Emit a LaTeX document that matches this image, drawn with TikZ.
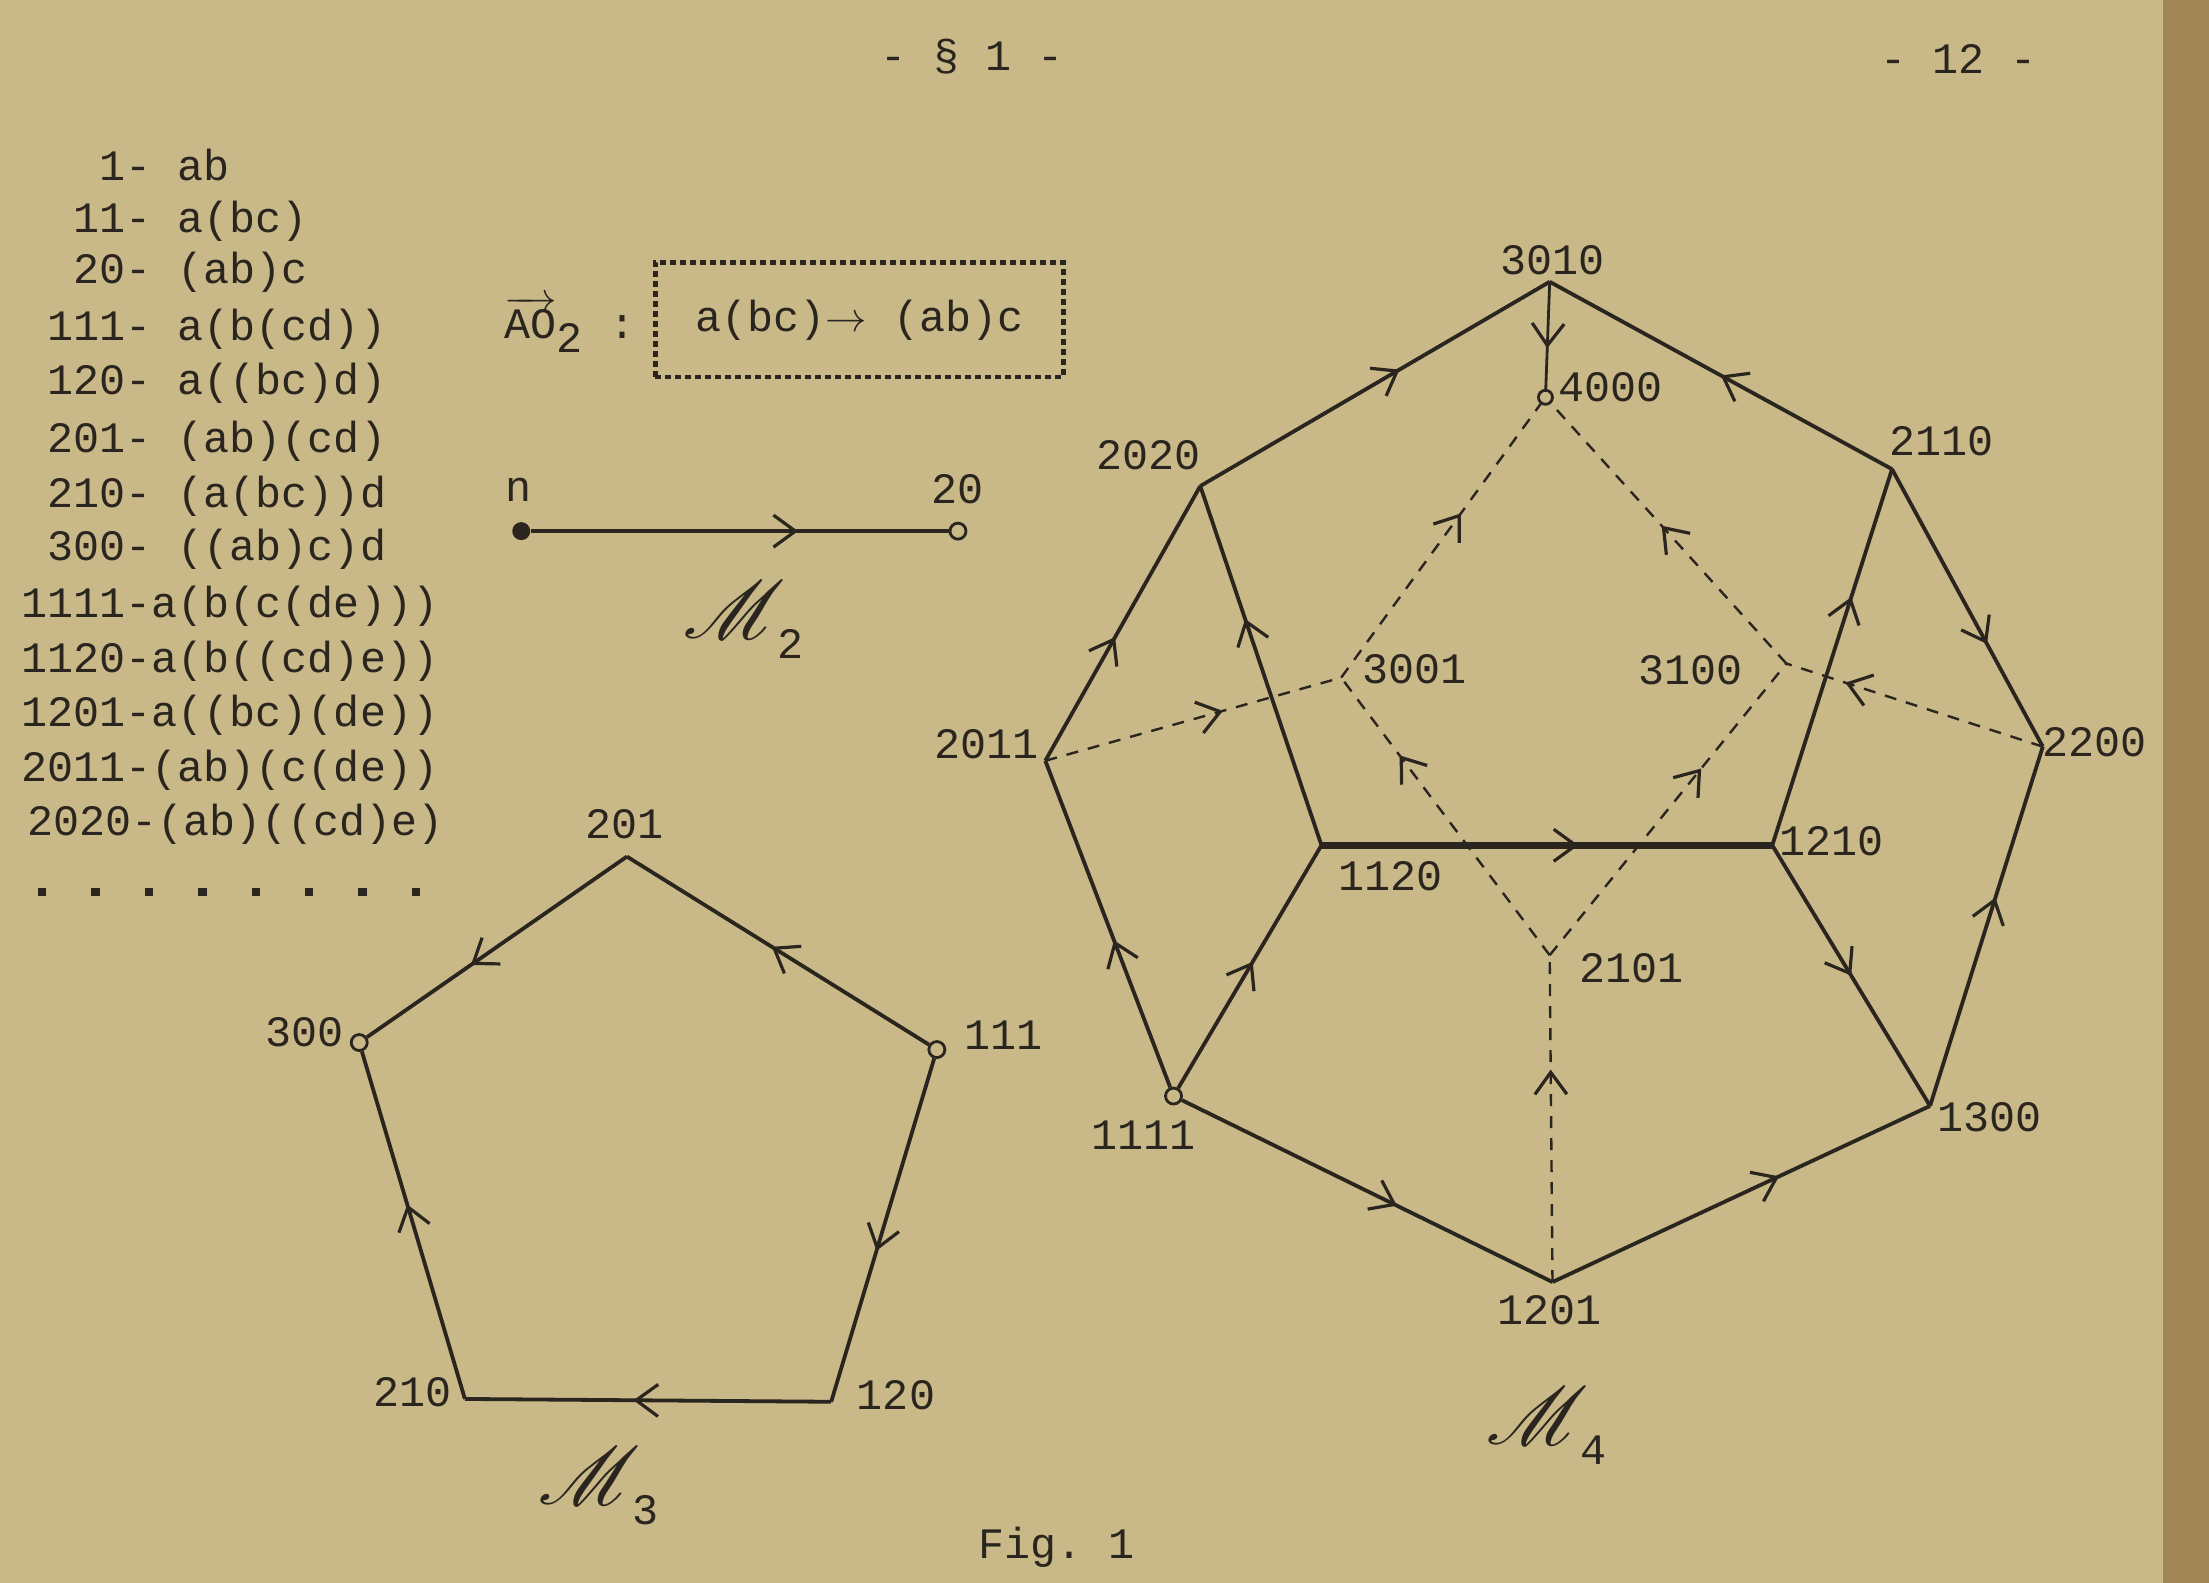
\documentclass[tikz,border=0pt]{standalone}
\usepackage{fontspec}
\setmonofont{Liberation Mono}
\usepackage{mathrsfs}
\usetikzlibrary{arrows.meta,decorations.markings}
\definecolor{paper}{RGB}{202,185,136}
\definecolor{edgeband}{RGB}{163,134,86}
\definecolor{ink}{RGB}{42,37,30}
\newcommand\tw{\ttfamily\fontsize{21.7}{26}\selectfont}
\newcommand\scrM[1]{\scalebox{1.65}{{\fontsize{24}{28}\selectfont$\mathscr{M}$}}\kern-4pt\raisebox{-10pt}{\tw #1}}
\begin{document}
\begin{tikzpicture}[x=0.7045pt,y=-0.7045pt,
  lbl/.style={font=\tw, text=ink, inner sep=0pt},
  edgeln/.style={draw=ink, line width=1.9pt},
  heavy/.style={draw=ink, line width=3.4pt},
  dsh/.style={draw=ink, line width=1.2pt, dash pattern=on 6pt off 5pt},
  marr/.style={postaction={decorate,decoration={markings,mark=at position #1 with {\arrow[ink,line width=1.6pt]{Straight Barb[length=11pt,width=16pt]}}}}},
  ring/.style={circle, draw=ink, fill=paper, line width=1.4pt, inner sep=0pt, minimum size=8pt},
  blob/.style={circle, fill=ink, inner sep=0pt, minimum size=9pt}]
% background
\fill[paper] (0,0) rectangle (1568,1123.5);
\fill[edgeband] (1535,0) rectangle (1568,1123.5);
\useasboundingbox (0,0) rectangle (1568,1123.5);

% header
\node[lbl] (hdr) at (690,40) {- § 1 -};
\node[lbl] (pg) at (1390,42) {- 12 -};
\node[lbl] (fig) at (750,1098) {Fig. 1};

% list
\node[lbl, anchor=base west] (l1) at (15,128) {\phantom{000}1- ab};
\node[lbl, anchor=base west] (l2) at (15,165) {\phantom{00}11- a(bc)};
\node[lbl, anchor=base west] (l3) at (15,201) {\phantom{00}20- (ab)c};
\node[lbl, anchor=base west] (l4) at (15,242) {\phantom{0}111- a(b(cd))};
\node[lbl, anchor=base west] (l5) at (15,280) {\phantom{0}120- a((bc)d)};
\node[lbl, anchor=base west] (l6) at (15,321) {\phantom{0}201- (ab)(cd)};
\node[lbl, anchor=base west] (l7) at (15,360) {\phantom{0}210- (a(bc))d};
\node[lbl, anchor=base west] (l8) at (15,398) {\phantom{0}300- ((ab)c)d};
\node[lbl, anchor=base west] (l9) at (15,438) {1111-a(b(c(de)))};
\node[lbl, anchor=base west] (l10) at (15,477) {1120-a(b((cd)e))};
\node[lbl, anchor=base west] (l11) at (15,516) {1201-a((bc)(de))};
\node[lbl, anchor=base west] (l12) at (15,555) {2011-(ab)(c(de))};
\node[lbl, anchor=base west] (l13) at (19,593) {2020-(ab)((cd)e)};
\foreach \i in {0,...,7} {\fill[ink] ({30+37.9*\i-3},630) rectangle ({30+37.9*\i+3},636);}

% AO2 box
\node[lbl, anchor=base west] (ao) at (358,240) {$\overrightarrow{\hbox{\tw AO}}_{\hbox{\tw 2}}$ :};
\node[lbl, draw=ink, line width=2.2pt, dash pattern=on 3pt off 2pt, minimum width=204pt, minimum height=57.5pt] (box) at (610,227) {a(bc)$\rightarrow$ (ab)c};

% M2
\node[blob] (n) at (370,377) {};
\node[ring] (m20) at (680,377) {};
\node[lbl] (nl) at (368,348) {n};
\node[lbl] (m20l) at (680,347) {20};
\draw[edgeln, line width=2.2pt, marr=0.64] (n) -- (m20);
\node[text=ink, inner sep=0pt] (M2) at (528,440) {\scrM{2}};

% M3
\coordinate (a201) at (445,608);
\node[ring] (a300) at (255,740) {};
\node[ring] (a111) at (665,745) {};
\coordinate (a210) at (330,993);
\coordinate (a120) at (590,995);
\node[lbl] (a201l) at (443,585) {201};
\node[lbl] (a300l) at (216,733) {300};
\node[lbl] (a111l) at (712,735) {111};
\node[lbl] (a210l) at (293,988) {210};
\node[lbl] (a120l) at (636,990) {120};
\draw[edgeln, marr=0.52] (a111) -- (a201);
\draw[edgeln, marr=0.6] (a201) -- (a300);
\draw[edgeln, marr=0.56] (a111) -- (a120);
\draw[edgeln, marr=0.54] (a120) -- (a210);
\draw[edgeln, marr=0.56] (a210) -- (a300);
\node[text=ink, inner sep=0pt] (M3) at (425,1055) {\scrM{3}};

% M4 vertices
\coordinate (b3010) at (1100,200);
\node[ring, minimum size=7pt] (b4000) at (1097,282) {};
\coordinate (b2020) at (852,345);
\coordinate (b2110) at (1343,333);
\coordinate (b2011) at (742,540);
\coordinate (b2200) at (1450,530);
\coordinate (b1120) at (938,600);
\coordinate (b1210) at (1258,600);
\coordinate (b3001) at (952,481);
\coordinate (b3100) at (1268,471);
\coordinate (b2101) at (1100,678);
\node[ring] (b1111) at (833,778) {};
\coordinate (b1300) at (1370,785);
\coordinate (b1201) at (1102,910);

% M4 labels
\node[lbl] (b3010l) at (1102,185) {3010};
\node[lbl] (b4000l) at (1143,275) {4000};
\node[lbl] (b2020l) at (815,323) {2020};
\node[lbl] (b2110l) at (1378,313) {2110};
\node[lbl] (b2011l) at (700,528) {2011};
\node[lbl] (b2200l) at (1487,527) {2200};
\node[lbl] (b3001l) at (1004,475) {3001};
\node[lbl] (b3100l) at (1200,476) {3100};
\node[lbl] (b1120l) at (987,622) {1120};
\node[lbl] (b1210l) at (1300,597) {1210};
\node[lbl] (b2101l) at (1158,687) {2101};
\node[lbl] (b1111l) at (812,806) {1111};
\node[lbl] (b1300l) at (1412,793) {1300};
\node[lbl] (b1201l) at (1100,930) {1201};
\node[text=ink, inner sep=0pt] (M4) at (1098,1012) {\scrM{4}};

% M4 solid edges
\draw[edgeln, marr=0.57] (b2020) -- (b3010);
\draw[edgeln, marr=0.5] (b2110) -- (b3010);
\draw[edgeln, marr=0.45] (b2011) -- (b2020);
\draw[edgeln, marr=0.63] (b1120) -- (b2020);
\draw[edgeln, marr=0.63] (b2110) -- (b2200);
\draw[edgeln, marr=0.66] (b1210) -- (b2110);
\draw[heavy, marr=0.57] (b1120) -- (b1210);
\draw[edgeln, marr=0.45] (b1111) -- (b2011);
\draw[edgeln, marr=0.52] (b1111) -- (b1120);
\draw[edgeln, marr=0.5] (b1210) -- (b1300);
\draw[edgeln, marr=0.58] (b1300) -- (b2200);
\draw[edgeln, marr=0.58] (b1111) -- (b1201);
\draw[edgeln, marr=0.6] (b1201) -- (b1300);
\draw[draw=ink, line width=1.4pt, marr=0.62] (b3010) -- (b4000);

% M4 dashed edges
\draw[dsh, marr=0.6] (b2011) -- (b3001);
\draw[dsh, marr=0.6] (b3001) -- (b4000);
\draw[dsh, marr=0.72] (b2101) -- (b3001);
\draw[dsh, marr=0.64] (b2101) -- (b3100);
\draw[dsh, marr=0.53] (b3100) -- (b4000);
\draw[dsh, marr=0.77] (b2200) -- (b3100);
\draw[dsh, marr=0.65] (b1201) -- (b2101);
\end{tikzpicture}
\end{document}
